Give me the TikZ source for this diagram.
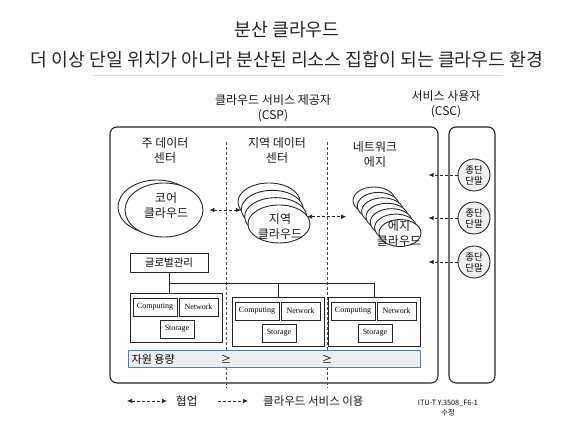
\documentclass[tikz,border=0pt]{standalone}
\usepackage{fontspec}
\setmainfont{Noto Sans CJK KR}
\newfontfamily\tnr{Liberation Serif}
\usepackage{xcolor}
\usetikzlibrary{shapes.geometric, arrows.meta, positioning, calc}

\definecolor{barline}{HTML}{5A7DB0}
\definecolor{barfill}{HTML}{ECEEF3}

\begin{document}
\begin{tikzpicture}[x=1pt, y=-1pt,
        line/.style={draw=black!85, line width=0.9pt},
        frame/.style={line, rounded corners=7pt, line width=1.1pt, inner sep=0pt},
        head/.style={font=\fontsize{18.3}{22}\selectfont, text=black!85, inner sep=0pt},
        lbl/.style={align=center, font=\fontsize{12}{15}\selectfont, text=black!90, inner sep=0pt},
        cloudy/.style={ellipse, line, fill=white, inner sep=0pt},
        unit/.style={line, line width=0.8pt, minimum height=18pt, inner sep=0pt, font=\tnr\fontsize{8}{9}\selectfont},
        grp/.style={line, minimum width=92pt, minimum height=49pt, inner sep=0pt},
        term/.style={circle, line, fill=gray!12, minimum size=32pt, inner sep=0pt, align=center, font=\fontsize{9.5}{11}\selectfont},
        link/.style={densely dashed, line width=0.7pt, draw=black!85},
        flow/.style={link, -{Latex[length=5pt,width=4.5pt]}},
        collab/.style={link, {Latex[length=5pt,width=4.5pt]}-{Latex[length=5pt,width=4.5pt]}},
        sep/.style={densely dashed, line width=0.6pt, draw=black!70}
    ]
        \useasboundingbox (0,0) rectangle (574,438);

        % Titel
        \node[head] (title) at (287,30) {분산 클라우드};
        \node[head] (subtitle) at (287,60) {더 이상 단일 위치가 아니라 분산된 리소스 집합이 되는 클라우드 환경};
        \draw[gray!25, line width=0.8pt] (93,75) -- (503,75);

        % Rahmen
        \node[frame, minimum width=328pt, minimum height=256pt] (csp) at (274,255) {};
        \node[frame, minimum width=46pt, minimum height=256pt] (csc) at (472,255) {};
        \node[lbl] (csplbl) at (273,108) {클라우드 서비스 제공자\\(CSP)};
        \node[lbl] (csclbl) at (446,104) {서비스 사용자\\(CSC)};

        \draw[sep] (226,142) -- (226,388);
        \draw[sep] (327,142) -- (327,388);

        \node[lbl] (maindc) at (165,151) {주 데이터\\센터};
        \node[lbl] (regdc) at (277,151) {지역 데이터\\센터};
        \node[lbl] (edgedc) at (375,155) {네트워크\\에지};

        % Clouds
        \node[cloudy, minimum width=78pt, minimum height=54pt] (coreb) at (157,207) {};
        \node[cloudy, minimum width=78pt, minimum height=54pt] (core) at (164,210) {};
        \node[lbl] (corelbl) at (166,206) {코어\\클라우드};

        \foreach \i in {0,...,3}
            \node[cloudy, minimum width=62pt, minimum height=38pt] (reg\i) at ({269+3.33*\i},{202+7.33*\i}) {};
        \node[lbl] (reglbl) at (280,227) {지역\\클라우드};

        \foreach \i in {0,...,6}
            \node[cloudy, minimum width=42pt, minimum height=27pt] (edge\i) at ({374+4.33*\i},{200.5+5.42*\i}) {};
        \node[lbl] (edgelbl) at (399,234) {에지\\클라우드};

        \draw[collab] ($(core.east)+(6,0)$) -- (core.east -| reg1.west);
        \draw[collab] (reg2.east) -- ($(reg2.east -| edge2.west)+(-15,0)$);

        % Endgeraete
        \foreach \i/\y in {1/175, 2/218, 3/262} {
            \node[term] (t\i) at (474,\y) {종단\\단말};
            \draw[flow] (t\i.west) -- ($(t\i.west -| csp.east)+(-10,0)$);
        }

        % Ressourcen
        \node[line, minimum width=78pt, minimum height=19pt, inner sep=0pt, font=\fontsize{10.5}{12}\selectfont] (glob) at (169,262.5) {글로벌관리};

        \foreach \g/\gx/\gy in {1/130/293, 2/232/297, 3/328/297} {
            \node[grp, anchor=north west] (g\g) at (\gx,\gy) {};
            \node[unit, minimum width=44pt] (comp\g) at (\gx+25,\gy+14) {Computing};
            \node[unit, minimum width=39pt] (net\g) at (\gx+68.5,\gy+14) {Network};
            \node[unit, minimum width=34pt] (stor\g) at (\gx+47,\gy+36) {Storage};
        }

        \coordinate (bus) at ($(glob.south)+(0,11)$);
        \draw[line, line width=0.8pt] (glob.south) -- (glob.south |- g1.north);
        \draw[line, line width=0.8pt] (bus) -| (g3.north);
        \draw[line, line width=0.8pt] (g2.north) -- (g2.north |- bus);

        \node[draw=barline, fill=barfill, line width=1pt, minimum width=292pt, minimum height=17pt, inner sep=0pt] (cap) at (274,359.5) {};
        \node[anchor=west, inner sep=0pt, font=\fontsize{11}{12}\selectfont] (caplbl) at ($(cap.west)+(4,0)$) {자원 용량};
        \node[inner sep=0pt, font=\fontsize{10.5}{12}\selectfont] (ge1) at (226,359) {≥};
        \node[inner sep=0pt, font=\fontsize{10.5}{12}\selectfont] (ge2) at (327,359) {≥};

        % Legende
        \coordinate (lgA) at (127,401);
        \node[lbl, anchor=west, font=\fontsize{11.5}{14}\selectfont] (lgcollab) at (176,401) {협업};
        \draw[collab] (lgA) -- ($(lgcollab.west)+(-9,0)$);
        \coordinate (lgB) at (218,401);
        \node[lbl, anchor=west, font=\fontsize{11.5}{14}\selectfont] (lguse) at (263,401) {클라우드 서비스 이용};
        \draw[flow] (lgB) -- ($(lguse.west)+(-15,0)$);

        \node[align=center, inner sep=0pt, font=\fontsize{7.3}{10}\selectfont] (src) at (448,408) {ITU-T Y.3508\_F6-1\\수정};

    \end{tikzpicture}
\end{document}
